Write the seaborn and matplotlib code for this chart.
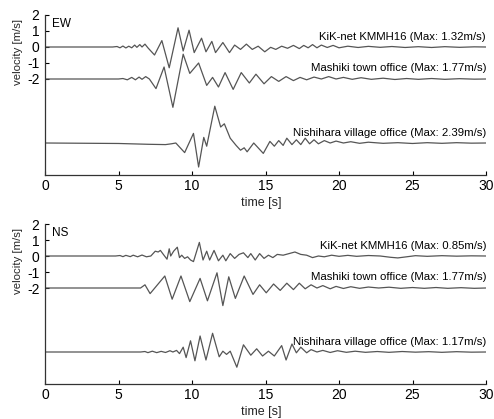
import matplotlib
matplotlib.use("Agg")
import matplotlib.pyplot as plt
import seaborn as sns
import numpy as np
import pandas as pd

# ---------------- data ----------------
offsets = [0.0, -2.0, -6.0]
station_names = ["KiK-net KMMH16", "Mashiki town office", "Nishihara village office"]
ew_max = ["1.32", "1.77", "2.39"]
ns_max = ["0.85", "1.77", "1.17"]
x_ticks = [0, 5, 10, 15, 20, 25, 30]
y_ticks = [-2, -1, 0, 1, 2]

ew_kik_t = [0, 4.6, 4.9, 5.1, 5.3, 5.5, 5.7, 5.9, 6.1, 6.25, 6.45, 6.6, 6.8, 7.0, 7.45, 7.95, 8.45,
            9.05, 9.4, 9.8, 10.15, 10.65, 10.95, 11.35, 11.6, 12.1, 12.55, 12.9, 13.3, 13.7, 14.1,
            14.5, 14.95, 15.35, 15.7, 16.1, 16.5, 16.9, 17.3, 17.6, 17.9, 18.2, 18.5, 18.8, 19.2,
            19.6, 20.0, 20.6, 21.3, 22.0, 22.8, 23.6, 24.5, 25.4, 26.3, 27.2, 28.2, 29.2, 30]
ew_kik_v = [0, 0, 0.03, -0.05, 0.06, -0.06, 0.05, -0.05, 0.12, -0.02, 0.15, 0.0, 0.18, -0.05, -0.5,
            0.4, -1.3, 1.2, -0.25, 1.05, -0.35, 0.55, -0.3, 0.35, -0.35, 0.28, -0.35, 0.12, -0.15,
            0.18, -0.15, 0.05, -0.3, -0.02, -0.15, 0.05, -0.08, 0.1, -0.1, 0.1, -0.05, 0.15, -0.05,
            0.12, -0.03, 0.1, -0.05, 0.05, -0.03, 0.04, -0.02, 0.03, -0.03, 0.02, -0.03, 0.02,
            -0.02, 0.01, 0]

ew_mas_t = [0, 5.0, 5.3, 5.6, 5.9, 6.15, 6.4, 6.6, 6.85, 7.1, 7.55, 8.1, 8.7, 9.4, 9.85, 10.45,
            11.0, 11.4, 11.8, 12.25, 12.8, 13.35, 13.9, 14.35, 14.9, 15.4, 15.9, 16.4, 16.9, 17.35,
            17.8, 18.3, 18.8, 19.3, 19.8, 20.3, 20.9, 21.5, 22.2, 23.0, 23.8, 24.6, 25.4, 26.3,
            27.2, 28.2, 29.2, 30]
ew_mas_v = [0, 0, 0.03, -0.05, 0.1, -0.05, 0.12, -0.02, 0.15, 0.0, -0.6, 0.75, -1.77, 1.55, 0.35,
            1.0, -0.4, 0.1, -0.5, 0.4, -0.65, 0.4, -0.25, 0.3, -0.3, 0.15, -0.15, 0.15, -0.1, 0.1,
            -0.05, 0.12, 0.0, 0.15, 0.0, 0.1, -0.02, 0.08, -0.02, 0.05, -0.03, 0.03, -0.02, 0.03,
            -0.02, 0.02, -0.01, 0]

ew_nis_t = [0, 5.0, 7.0, 8.2, 8.6, 8.9, 9.5, 10.1, 10.45, 10.8, 11.0, 11.55, 11.95, 12.2, 12.6,
            13.0, 13.3, 13.55, 13.75, 14.2, 14.85, 15.3, 15.6, 15.9, 16.2, 16.45, 16.8, 17.1, 17.4,
            17.7, 18.0, 18.3, 18.6, 19.0, 19.4, 19.8, 20.3, 20.8, 21.4, 22.0, 23.0, 24.0, 25.0,
            26.0, 27.0, 28.0, 29.0, 30]
ew_nis_v = [0, -0.03, -0.08, -0.1, -0.05, 0.0, -0.6, 0.6, -1.5, 0.35, -0.2, 2.3, 1.0, 1.2, 0.3,
            -0.15, -0.45, -0.3, -0.55, 0.0, -0.65, 0.1, -0.2, 0.15, -0.15, 0.3, -0.1, 0.2, -0.1,
            0.3, -0.05, 0.2, -0.05, 0.15, 0.0, 0.12, 0.0, 0.08, -0.02, 0.05, -0.02, 0.02, -0.03,
            0.02, -0.02, 0.02, -0.01, 0]

ns_kik_t = [0, 4.8, 5.1, 5.3, 5.5, 5.8, 6.0, 6.3, 6.6, 6.9, 7.2, 7.5, 7.7, 7.85, 8.05, 8.3, 8.45,
            8.55, 8.75, 9.0, 9.15, 9.3, 9.5, 9.7, 9.9, 10.1, 10.5, 10.75, 11.0, 11.2, 11.5, 11.8,
            12.1, 12.3, 12.6, 12.9, 13.2, 13.5, 13.8, 14.0, 14.3, 14.6, 14.9, 15.2, 15.5, 15.8,
            16.2, 16.6, 17.0, 17.4, 17.8, 18.2, 18.6, 19.0, 19.5, 20.0, 20.6, 21.2, 22.0, 22.8,
            23.5, 24.0, 24.6, 25.2, 26.0, 27.0, 28.0, 29.0, 30]
ns_kik_v = [0, 0, 0.03, -0.04, 0.04, -0.04, 0.05, -0.05, 0.06, -0.05, 0.0, 0.3, 0.25, 0.35, 0.1,
            -0.2, 0.45, 0.0, 0.3, 0.55, -0.1, 0.05, -0.15, -0.05, -0.25, -0.35, 0.85, -0.25, 0.3,
            -0.25, 0.35, -0.3, 0.05, -0.3, 0.15, -0.15, 0.1, 0.2, -0.1, 0.15, -0.25, 0.15, -0.15,
            0.05, -0.1, 0.1, 0.05, 0.15, 0.25, 0.1, 0.05, -0.1, 0.0, -0.05, 0.05, -0.02, 0.04,
            -0.02, 0.03, 0.0, -0.08, -0.12, -0.05, 0.02, -0.02, 0.02, -0.01, 0.01, 0]

ns_mas_t = [0, 6.5, 6.8, 7.15, 8.15, 8.65, 9.25, 9.85, 10.55, 11.05, 11.7, 12.1, 12.5, 12.95,
            13.55, 14.15, 14.6, 15.05, 15.55, 16.0, 16.45, 16.9, 17.3, 17.7, 18.1, 18.5, 18.9,
            19.4, 19.8, 20.3, 20.8, 21.4, 22.0, 22.7, 23.4, 24.2, 25.0, 25.8, 26.6, 27.4, 28.3,
            29.2, 30]
ns_mas_v = [0, 0, 0.2, -0.35, 0.75, -0.7, 0.75, -0.85, 0.6, -0.8, 0.95, -1.1, 0.7, -0.65, 0.75,
            -0.4, 0.2, -0.3, 0.25, -0.15, 0.3, -0.1, 0.3, -0.05, 0.2, 0.0, 0.15, -0.05, 0.1, -0.03,
            0.08, -0.02, 0.06, 0.0, 0.05, -0.02, 0.03, -0.02, 0.03, -0.02, 0.02, -0.02, 0]

ns_nis_t = [0, 6.5, 6.8, 7.0, 7.3, 7.6, 7.9, 8.2, 8.5, 8.7, 8.95, 9.15, 9.4, 9.6, 9.9, 10.2,
            10.55, 10.95, 11.4, 11.85, 12.1, 12.35, 12.6, 13.05, 13.5, 14.0, 14.4, 14.8, 15.2,
            15.6, 16.1, 16.4, 16.8, 17.1, 17.4, 17.8, 18.1, 18.5, 18.9, 19.4, 19.9, 20.5, 21.1,
            21.8, 22.6, 23.4, 24.3, 25.2, 26.1, 27.0, 28.0, 29.0, 30]
ns_nis_v = [0, 0, 0.03, -0.04, 0.05, -0.04, 0.04, -0.03, 0.08, 0.0, 0.1, -0.1, 0.3, -0.35, 0.7,
            -0.55, 1.0, -0.5, 1.17, -0.3, 0.05, -0.15, 0.05, -0.95, 0.45, -0.2, 0.2, -0.25, 0.05,
            -0.25, 0.4, -0.5, 0.5, -0.05, 0.3, -0.05, 0.15, 0.0, 0.1, -0.03, 0.08, -0.02, 0.05,
            -0.02, 0.03, -0.02, 0.03, -0.01, 0.02, -0.02, 0.02, -0.01, 0]

panels = [
    ("EW", [(ew_kik_t, ew_kik_v), (ew_mas_t, ew_mas_v), (ew_nis_t, ew_nis_v)], ew_max),
    ("NS", [(ns_kik_t, ns_kik_v), (ns_mas_t, ns_mas_v), (ns_nis_t, ns_nis_v)], ns_max),
]

# ---------------- styling ----------------
sns.set_style("ticks")
plt.rcParams['font.family'] = ['Liberation Sans', 'DejaVu Sans']
plt.rcParams['axes.unicode_minus'] = False

W, H = 494, 419
fig = plt.figure(figsize=(W / 100, H / 100), dpi=100)

ax_rects = [
    (45 / W, 1 - 175 / H, (486 - 45) / W, 160 / H),
    (45 / W, 1 - 384 / H, (486 - 45) / W, 160 / H),
]
label_y = [0.625, -1.31, -5.375]
line_col = "#555555"

for (comp, traces, maxes), rect in zip(panels, ax_rects):
    ax = fig.add_axes(rect)
    for (t, v), off in zip(traces, offsets):
        df = pd.DataFrame({"t": t, "v": np.asarray(v) + off})
        sns.lineplot(data=df, x="t", y="v", ax=ax, color=line_col, linewidth=0.9,
                     estimator=None, sort=False)
    for name, mx, ly in zip(station_names, maxes, label_y):
        ax.text(30, ly, f"{name} (Max: {mx}m/s)", ha="right", va="center",
                fontsize=8.2, color="black")
    ax.text(0.5, 1.45, comp, ha="left", va="center", fontsize=8.5, color="black")
    ax.set_xlim(0, 30)
    ax.set_ylim(-8, 2)
    ax.set_xticks(x_ticks)
    ax.set_yticks(y_ticks)
    ax.tick_params(direction="in", length=3, width=0.8, labelsize=10, pad=4, colors="black")
    ax.tick_params(axis="x", pad=3)
    ax.set_xlabel("time [s]", fontsize=9)
    ax.set_ylabel("velocity [m/s]", fontsize=8.2)
    ax.xaxis.set_label_coords(0.49, -28 / 160)
    ax.yaxis.set_label_coords(-27 / 441, (175 - 52) / 160)
    ax.xaxis.label.set_va("center")
    ax.yaxis.label.set_va("center")
    sns.despine(ax=ax)
    for s in ("left", "bottom"):
        ax.spines[s].set_linewidth(0.9)
        ax.spines[s].set_color("#333333")

fig.savefig("out.png", dpi=100)
